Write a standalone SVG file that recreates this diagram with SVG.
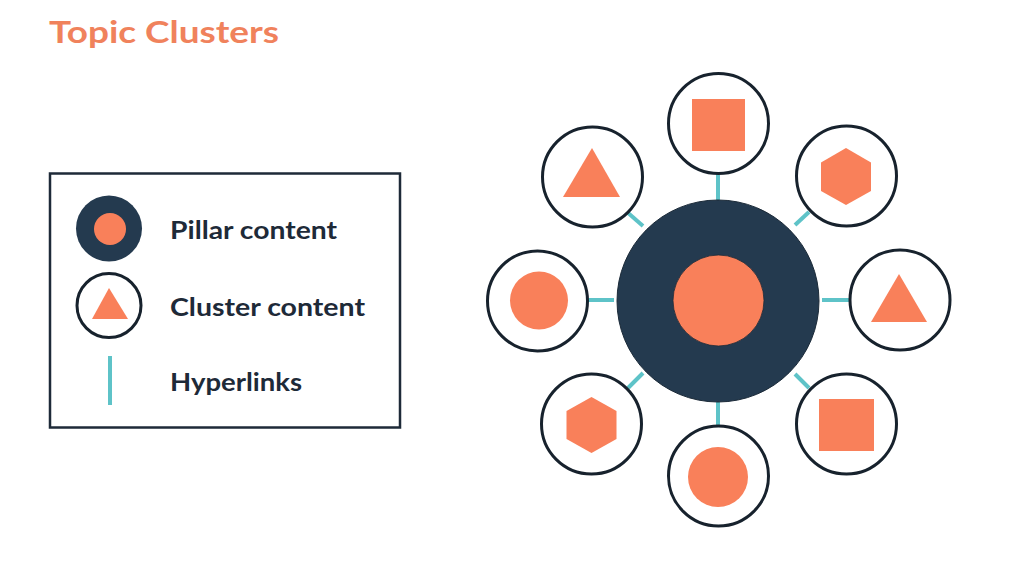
<svg xmlns="http://www.w3.org/2000/svg" width="1024" height="571" viewBox="0 0 1024 571">
<style>
.title{font-family:Lato,"Open Sans","Liberation Sans",sans-serif;font-weight:700;font-size:31px;fill:#f0825c}
.lbl{font-family:Lato,"Open Sans","Liberation Sans",sans-serif;font-weight:700;font-size:25px;fill:#1e2a38}
.sat{fill:#fff;stroke:#17222d;stroke-width:3}
.sh{fill:#f9805a}
.link{stroke:#5ec3c8;stroke-width:4;stroke-linecap:butt}
</style>
<rect width="1024" height="571" fill="#fff"/>
<text class="title" x="49" y="43" textLength="230" lengthAdjust="spacingAndGlyphs">Topic Clusters</text>
<g id="legend">
<rect x="50" y="173.5" width="350" height="254" fill="none" stroke="#1e2a38" stroke-width="2.5"/>
<circle cx="109" cy="228.5" r="33" fill="#243a4f"/>
<circle cx="110" cy="229" r="16" class="sh"/>
<text class="lbl" x="170" y="239" textLength="167" lengthAdjust="spacingAndGlyphs">Pillar content</text>
<circle cx="109" cy="305.5" r="32" class="sat" stroke-width="2.5"/>
<polygon points="109,288 128,319 92,319" class="sh"/>
<text class="lbl" x="170" y="316" textLength="195" lengthAdjust="spacingAndGlyphs">Cluster content</text>
<line x1="110" y1="356" x2="110" y2="405" class="link" stroke-width="3"/>
<text class="lbl" x="170" y="391" textLength="132" lengthAdjust="spacingAndGlyphs">Hyperlinks</text>
</g>
<g id="connectors">
<line class="link" x1="718" y1="173" x2="718" y2="200"/>
<line class="link" x1="718" y1="402" x2="718" y2="426"/>
<line class="link" x1="588" y1="300" x2="614" y2="300"/>
<line class="link" x1="822" y1="300" x2="849" y2="300"/>
<line class="link" x1="627" y1="212" x2="643" y2="226"/>
<line class="link" x1="795" y1="225" x2="809" y2="212"/>
<line class="link" x1="628" y1="388" x2="643" y2="373"/>
<line class="link" x1="795" y1="374" x2="809" y2="388"/>
</g>
<g id="pillar">
<circle cx="718" cy="301" r="101" fill="#243a4f" stroke="#1b2a38" stroke-width="1"/>
<circle cx="718.5" cy="300.5" r="45.5" class="sh" stroke="#1b2a38" stroke-width="0.8"/>
</g>
<g id="cluster-top">
<circle cx="718.5" cy="123.5" r="50" class="sat"/>
<rect x="692" y="99" width="53" height="52" class="sh"/>
</g>
<g id="cluster-top-right">
<circle cx="846.5" cy="176" r="50" class="sat"/>
<polygon points="846,148 871,162.5 871,191 846,205 821,191 821,162.5" class="sh"/>
</g>
<g id="cluster-right">
<circle cx="900" cy="300" r="50" class="sat"/>
<polygon points="899,274 927,322 871,322" class="sh"/>
</g>
<g id="cluster-bottom-right">
<circle cx="846.5" cy="424" r="50" class="sat"/>
<rect x="819" y="399" width="55" height="52" class="sh"/>
</g>
<g id="cluster-bottom">
<circle cx="718.5" cy="476" r="50" class="sat"/>
<circle cx="718" cy="477" r="30" class="sh"/>
</g>
<g id="cluster-bottom-left">
<circle cx="591.5" cy="424" r="50" class="sat"/>
<polygon points="591.5,397 616.5,411 616.5,439 591.5,453 566.5,439 566.5,411" class="sh"/>
</g>
<g id="cluster-left">
<circle cx="537.5" cy="301" r="50" class="sat"/>
<circle cx="539" cy="300.5" r="29" class="sh"/>
</g>
<g id="cluster-top-left">
<circle cx="592.5" cy="177" r="50" class="sat"/>
<polygon points="592,148 620,197 563,197" class="sh"/>
</g>
</svg>
